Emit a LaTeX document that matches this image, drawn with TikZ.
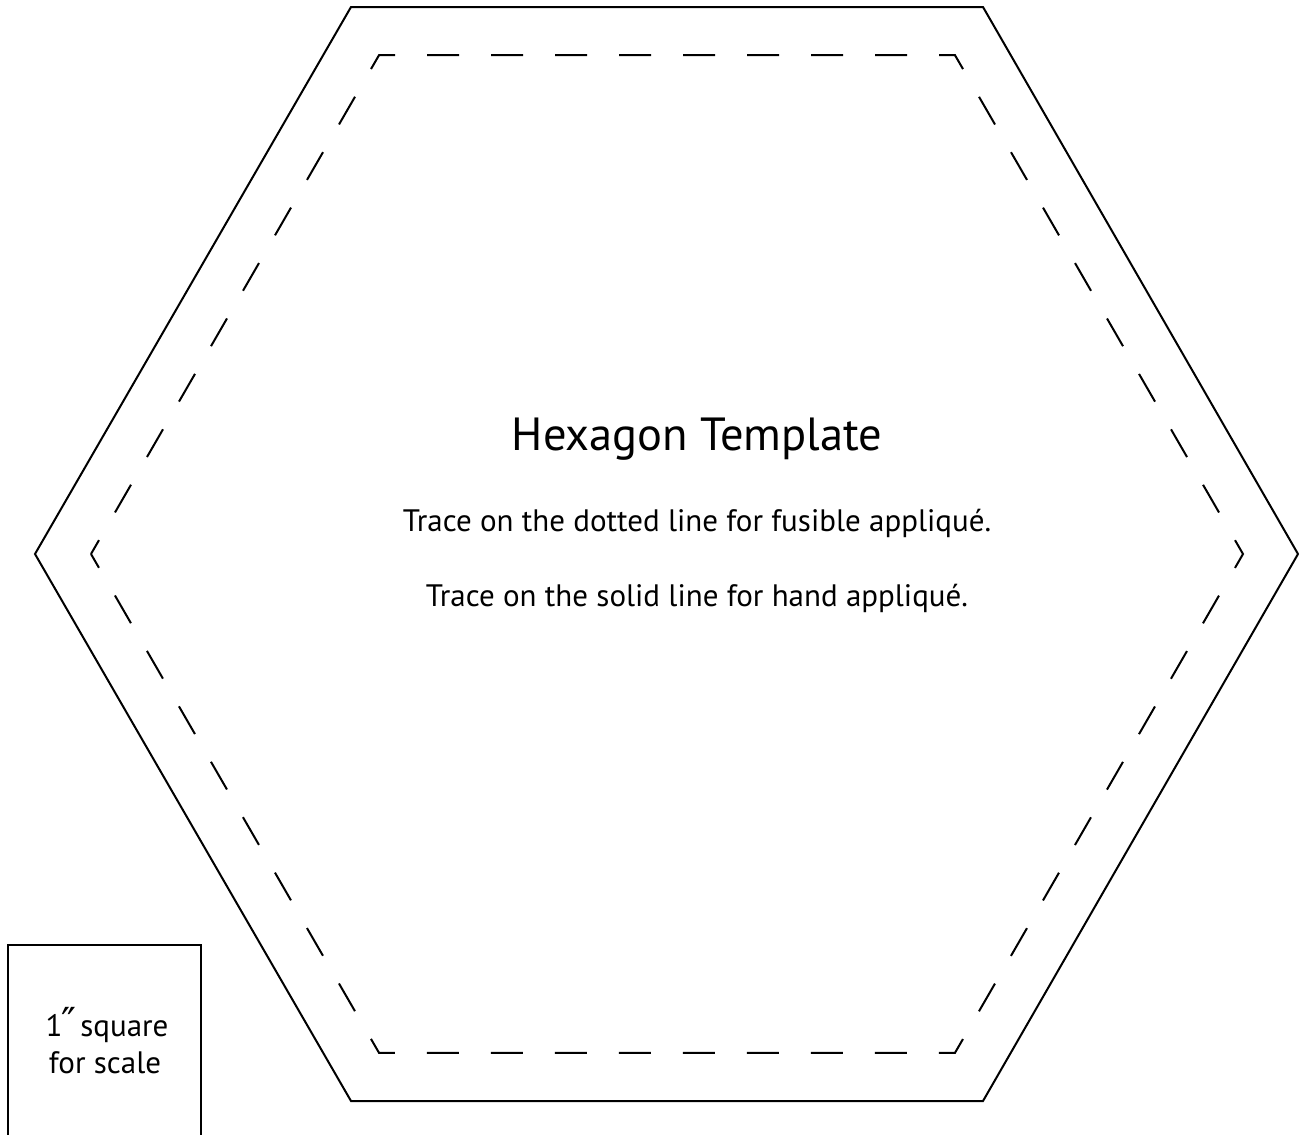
\documentclass[tikz,border=0pt]{standalone}
\usepackage{fontspec}
\setmainfont{PT Sans}
\newfontfamily\symfont{DejaVu Sans}
\begin{document}
\begin{tikzpicture}[x=1pt,y=-1pt,
  solidline/.style={draw=black,line width=2pt,line join=miter},
  dashline/.style={draw=black,line width=2pt,line join=miter,dash pattern=on 32pt off 32pt,dash phase=16pt},
  titletext/.style={anchor=base,inner sep=0pt,font=\fontsize{46.5}{54}\selectfont},
  bodytext/.style={anchor=base,inner sep=0pt,font=\fontsize{31}{36}\selectfont},
  sqtext/.style={anchor=base,inner sep=0pt,font=\fontsize{31}{36}\selectfont}]
\useasboundingbox (0,0) rectangle (1299,1135);
\fill[white] (0,0) rectangle (1299,1135);
% outer hexagon
\coordinate (o1) at (1298,554);
\coordinate (o2) at (983,1101);
\coordinate (o3) at (351,1101);
\coordinate (o4) at (35,554);
\coordinate (o5) at (351,7);
\coordinate (o6) at (983,7);
\draw[solidline] (o1) -- (o2) -- (o3) -- (o4) -- (o5) -- (o6) -- cycle;
% inner dashed hexagon
\coordinate (i1) at (91,554);
\coordinate (i2) at (379,55.2);
\coordinate (i3) at (955,55.2);
\coordinate (i4) at (1243,554);
\coordinate (i5) at (955,1052.8);
\coordinate (i6) at (379,1052.8);
\draw[dashline] (i1) -- (i2) -- (i3) -- (i4) -- (i5) -- (i6) -- cycle;
% texts
\node[titletext] (title) at (697,450) {Hexagon Template};
\node[bodytext] (line1) at (697,531) {Trace on the dotted line for fusible appliqué.};
\node[bodytext] (line2) at (697,606) {Trace on the solid line for hand appliqué.};
% scale square
\coordinate (s1) at (8,1140);
\coordinate (s2) at (8,945);
\coordinate (s3) at (201,945);
\coordinate (s4) at (201,1140);
\draw[solidline] (s1) -- (s2) -- (s3) -- (s4);
\node[sqtext] (sq1) at (107,1036) {1{\symfont\fontsize{40}{40}\selectfont\kern-1pt″}\kern4pt square};
\node[sqtext] (sq2) at (105,1073) {for scale};
\end{tikzpicture}
\end{document}
